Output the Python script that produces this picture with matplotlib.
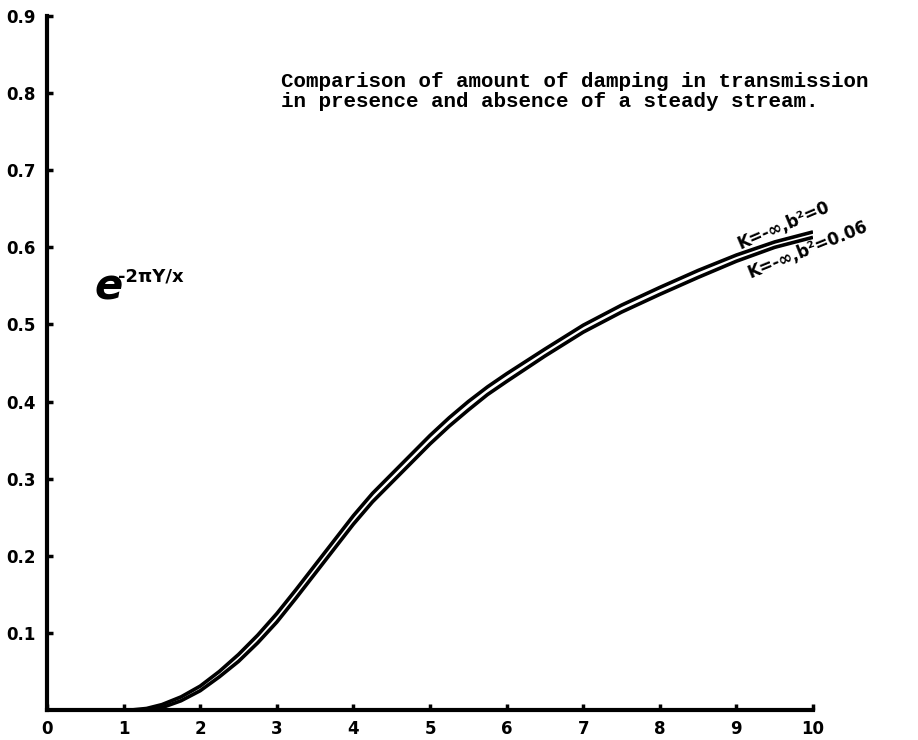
import numpy as np
import matplotlib
matplotlib.use("Agg")
import matplotlib.pyplot as plt

# values
x_upper = [1.10, 1.30, 1.50, 1.75, 2.00, 2.25, 2.50, 2.75, 3.00, 3.25, 3.50, 3.75, 4.00,
           4.25, 4.50, 4.75, 5.00, 5.25, 5.50, 5.75, 6.00, 6.50, 7.00, 7.50, 8.00,
           8.50, 9.00, 9.50, 10.00]
y_upper = [0.000, 0.002, 0.007, 0.017, 0.031, 0.050, 0.072, 0.097, 0.125, 0.156, 0.188,
           0.220, 0.252, 0.281, 0.306, 0.331, 0.356, 0.379, 0.400, 0.419, 0.436, 0.468,
           0.499, 0.525, 0.548, 0.570, 0.590, 0.607, 0.620]

x_lower = [1.25, 1.50, 1.75, 2.00, 2.25, 2.50, 2.75, 3.00, 3.25, 3.50, 3.75, 4.00,
           4.25, 4.50, 4.75, 5.00, 5.25, 5.50, 5.75, 6.00, 6.50, 7.00, 7.50, 8.00,
           8.50, 9.00, 9.50, 10.00]
y_lower = [0.000, 0.003, 0.012, 0.025, 0.043, 0.063, 0.087, 0.114, 0.145, 0.177, 0.209,
           0.241, 0.270, 0.295, 0.320, 0.345, 0.368, 0.389, 0.409, 0.426, 0.459, 0.490,
           0.516, 0.539, 0.561, 0.582, 0.600, 0.613]

x_ticks = [0, 1, 2, 3, 4, 5, 6, 7, 8, 9, 10]
y_ticks = [0.1, 0.2, 0.3, 0.4, 0.5, 0.6, 0.7, 0.8, 0.9]

title_lines = ["Comparison of amount of damping in transmission",
               "in presence and absence of a steady stream."]
label_upper = "K=-\u221e,b\u00b2=0"
label_lower = "K=-\u221e,b\u00b2=0.06"

fig = plt.figure(figsize=(9.18, 7.40), dpi=100)
ax = fig.add_axes([47 / 918, 30 / 740, 766 / 918, 694 / 740])

ax.plot(x_upper, y_upper, color="black", lw=2.6, solid_capstyle="butt")
ax.plot(x_lower, y_lower, color="black", lw=2.6, solid_capstyle="butt")

ax.set_xlim(0, 10)
ax.set_ylim(0, 0.9)
ax.set_xticks(x_ticks)
ax.set_xticklabels([str(v) for v in x_ticks])
ax.set_yticks(y_ticks)
ax.set_yticklabels([f"{v:.1f}" for v in y_ticks])

for s in ["top", "right"]:
    ax.spines[s].set_visible(False)
for s in ["left", "bottom"]:
    ax.spines[s].set_linewidth(3.0)

ax.tick_params(direction="in", length=4, width=2.5, labelsize=12)
ax.tick_params(axis="y", pad=8)
ax.tick_params(axis="x", pad=7)
for lab in ax.get_xticklabels() + ax.get_yticklabels():
    lab.set_fontweight("bold")

# y quantity label, e^(-2piY/x)
ax.text(0.62, 0.532, "e", fontsize=30, fontweight="bold", fontstyle="italic",
        ha="left", va="baseline")
ax.text(0.93, 0.556, "-2\u03c0Y/x", fontsize=13, fontweight="bold",
        ha="left", va="baseline")

# note text (typewriter style)
ax.text(3.05, 0.808, title_lines[0], family="Liberation Mono", fontweight="bold",
        fontsize=15, ha="left", va="baseline", clip_on=False)
ax.text(3.05, 0.782, title_lines[1], family="Liberation Mono", fontweight="bold",
        fontsize=15, ha="left", va="baseline", clip_on=False)

# curve labels
ax.text(9.05, 0.597, label_upper, fontsize=12, fontweight="bold", rotation=23,
        rotation_mode="anchor", ha="left", va="baseline", clip_on=False)
ax.text(9.18, 0.560, label_lower, fontsize=12, fontweight="bold", rotation=22,
        rotation_mode="anchor", ha="left", va="baseline", clip_on=False)

fig.savefig("out.png", dpi=100)
